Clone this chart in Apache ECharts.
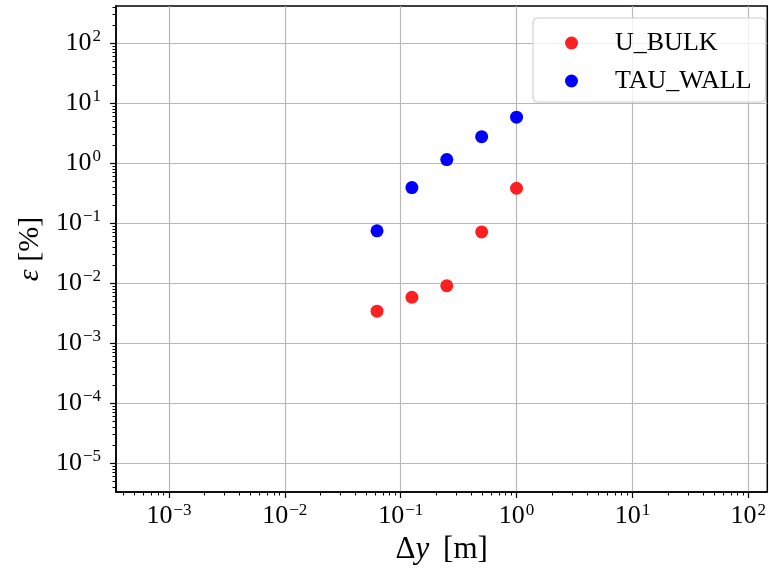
<!DOCTYPE html>
<html>
<head>
<meta charset="utf-8">
<script src="https://cdn.jsdelivr.net/npm/echarts@6/dist/echarts.min.js"></script>
<style>
  html, body { margin: 0; padding: 0; background: #fff; }
  #chart { width: 769px; height: 575px; }
</style>
</head>
<body>
<div id="chart"></div>
<script>
// grid spacing dy [m]
const dyValues = [0.0625, 0.125, 0.25, 0.5, 1.0];
// relative error [%]
const uBulk = [0.0034, 0.0058, 0.009, 0.071, 0.38];
const tauWall = [0.074, 0.39, 1.14, 2.75, 5.8];

const xTicks = [1e-3, 1e-2, 1e-1, 1e0, 1e1, 1e2];
const yTicks = [1e-5, 1e-4, 1e-3, 1e-2, 1e-1, 1e0, 1e1, 1e2];
const xRange = [3.49e-4, 146];
const yRange = [3.29e-6, 414];

function minorTicks(range) {
  const out = [];
  const lo = Math.floor(Math.log10(range[0]));
  const hi = Math.ceil(Math.log10(range[1]));
  for (let e = lo; e <= hi; e++) {
    for (let m = 2; m <= 9; m++) {
      const v = m * Math.pow(10, e);
      if (v >= range[0] && v <= range[1]) out.push(v);
    }
  }
  return out;
}

function powLabel(v) {
  const e = Math.round(Math.log10(v));
  return '10{s|' + (e < 0 ? '\u2212' + (-e) : e) + '}';
}

const FONT = '"Liberation Serif", "DejaVu Serif", serif';
const GRID = { left: 116, right: 1, top: 6, bottom: 83 };

const labelRich = {
  s: { fontSize: 17, fontFamily: FONT, color: '#000', padding: [0, 0, 12, 1] },
};

const chart = echarts.init(document.getElementById('chart'));

chart.setOption({
  backgroundColor: '#fff',
  animation: false,
  grid: [
    Object.assign({ show: true, borderColor: '#000', borderWidth: 1.5, backgroundColor: 'transparent' }, GRID),
    Object.assign({}, GRID),
  ],
  legend: {
    left: 533,
    top: 18,
    orient: 'vertical',
    padding: [12, 14, 8, 32],
    itemWidth: 13,
    itemHeight: 13,
    itemGap: 12,
    icon: 'circle',
    backgroundColor: 'rgba(255,255,255,0.8)',
    borderColor: '#cccccc',
    borderWidth: 1,
    borderRadius: 4,
    formatter: (name) => '{g|}' + name,
    textStyle: {
      fontFamily: FONT, fontSize: 26, color: '#000', lineHeight: 26,
      rich: { g: { width: 32 } },
    },
    data: ['U_BULK', 'TAU_WALL'],
  },
  xAxis: [
    {
      type: 'log',
      gridIndex: 0,
      min: xRange[0],
      max: xRange[1],
      name: '\u0394{i|y} \u2009[m]',
      nameLocation: 'middle',
      nameGap: 38,
      nameTextStyle: {
        fontFamily: FONT, fontSize: 31, color: '#000',
        rich: { i: { fontFamily: FONT, fontStyle: 'italic', fontSize: 31, color: '#000' } },
      },
      axisLine: { show: true, lineStyle: { color: '#000', width: 1.5 } },
      axisTick: { show: true, inside: false, length: 6, customValues: xTicks, lineStyle: { color: '#000', width: 1.2 } },
      axisLabel: {
        customValues: xTicks, formatter: powLabel, margin: 10,
        fontFamily: FONT, fontSize: 26, color: '#000', rich: labelRich,
      },
      splitLine: { show: true, lineStyle: { color: '#b8b8b8', width: 1.2 } },
    },
    {
      type: 'log',
      gridIndex: 1,
      min: xRange[0],
      max: xRange[1],
      axisLine: { show: false },
      axisTick: { show: true, length: 3.5, customValues: minorTicks(xRange), lineStyle: { color: '#000', width: 1 } },
      axisLabel: { show: false },
      splitLine: { show: false },
    },
  ],
  yAxis: [
    {
      type: 'log',
      gridIndex: 0,
      min: yRange[0],
      max: yRange[1],
      name: '{i|\u03b5} [%]',
      nameLocation: 'middle',
      nameRotate: 90,
      nameGap: 70,
      nameTextStyle: {
        fontFamily: FONT, fontSize: 30, color: '#000',
        rich: { i: { fontFamily: FONT, fontStyle: 'italic', fontSize: 30, color: '#000' } },
      },
      axisLine: { show: true, lineStyle: { color: '#000', width: 1.5 } },
      axisTick: { show: true, inside: false, length: 6, customValues: yTicks, lineStyle: { color: '#000', width: 1.2 } },
      axisLabel: {
        customValues: yTicks, formatter: powLabel, margin: 15,
        fontFamily: FONT, fontSize: 26, color: '#000', rich: labelRich,
      },
      splitLine: { show: true, lineStyle: { color: '#b8b8b8', width: 1.2 } },
    },
    {
      type: 'log',
      gridIndex: 1,
      min: yRange[0],
      max: yRange[1],
      axisLine: { show: false },
      axisTick: { show: true, length: 3.5, customValues: minorTicks(yRange), lineStyle: { color: '#000', width: 1 } },
      axisLabel: { show: false },
      splitLine: { show: false },
    },
  ],
  series: [
    {
      name: 'U_BULK',
      type: 'scatter',
      xAxisIndex: 0,
      yAxisIndex: 0,
      symbolSize: 13,
      itemStyle: { color: '#fd2020', opacity: 1 },
      data: dyValues.map((x, i) => [x, uBulk[i]]),
    },
    {
      name: 'TAU_WALL',
      type: 'scatter',
      xAxisIndex: 0,
      yAxisIndex: 0,
      symbolSize: 13,
      itemStyle: { color: '#0000ff', opacity: 1 },
      data: dyValues.map((x, i) => [x, tauWall[i]]),
    },
  ],
});
</script>
</body>
</html>
